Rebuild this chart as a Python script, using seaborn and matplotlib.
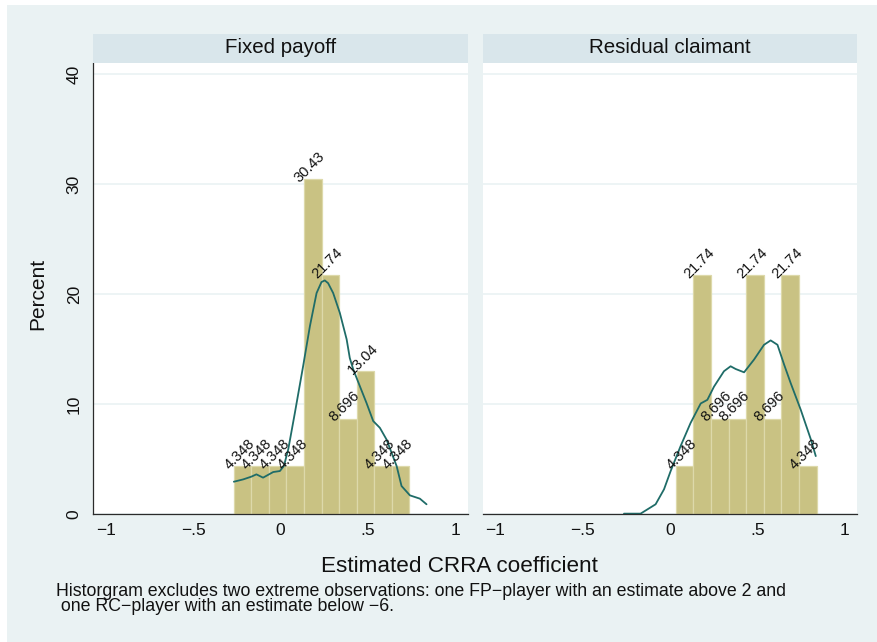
import matplotlib
matplotlib.use("Agg")
import matplotlib.pyplot as plt
import seaborn as sns
from matplotlib.patches import Rectangle

# ---- data -------------------------------------------------------------
panel_titles = ["Fixed payoff", "Residual claimant"]

fp_bin_edges = [-0.267, -0.167, -0.066, 0.034, 0.135, 0.235, 0.335, 0.436, 0.536, 0.636, 0.737]
fp_percent = [4.348, 4.348, 4.348, 4.348, 30.43, 21.74, 8.696, 13.04, 4.348, 4.348]
fp_kde_x = [-0.267, -0.214, -0.167, -0.138, -0.100, -0.042, -0.004, 0.019, 0.044, 0.082,
            0.129, 0.168, 0.206, 0.234, 0.253, 0.272, 0.301, 0.339, 0.378, 0.396, 0.416,
            0.492, 0.530, 0.568, 0.606, 0.664, 0.692, 0.740, 0.797, 0.835]
fp_kde_y = [2.96, 3.17, 3.42, 3.63, 3.33, 3.84, 3.93, 4.38, 5.90, 9.22,
            13.45, 17.10, 20.10, 21.10, 21.25, 21.00, 20.10, 18.30, 15.90, 14.20, 13.15,
            10.10, 8.47, 7.86, 6.80, 4.38, 2.57, 1.72, 1.42, 0.91]

rc_bin_edges = [0.033, 0.134, 0.235, 0.336, 0.436, 0.537, 0.638, 0.739, 0.839]
rc_percent = [4.348, 21.74, 8.696, 8.696, 21.74, 8.696, 21.74, 4.348]
rc_kde_x = [-0.263, -0.168, -0.082, -0.034, 0.004, 0.061, 0.118, 0.176, 0.214, 0.252,
            0.309, 0.347, 0.376, 0.424, 0.481, 0.538, 0.576, 0.615, 0.653, 0.691,
            0.748, 0.806, 0.834]
rc_kde_y = [0.06, 0.06, 0.91, 2.27, 3.93, 6.20, 8.30, 10.07, 10.40, 11.60,
            13.00, 13.45, 13.20, 12.90, 14.06, 15.40, 15.80, 15.40, 13.60, 11.90,
            9.50, 6.80, 5.29]

x_ticks = [-1, -0.5, 0, 0.5, 1]
x_tick_labels = ["\u22121", "\u2212.5", "0", ".5", "1"]
y_ticks = [0, 10, 20, 30, 40]
y_tick_labels = ["0", "10", "20", "30", "40"]

x_title = "Estimated CRRA coefficient"
y_title = "Percent"
note_lines = [
    "Historgram excludes two extreme observations: one FP\u2212player with an estimate above 2 and",
    " one RC\u2212player with an estimate below \u22126.",
]

# ---- style ------------------------------------------------------------
sns.set_style("white")
plt.rcParams["font.family"] = ["Liberation Sans", "DejaVu Sans"]

BG = "#EAF2F3"
STRIP = "#D9E6EB"
GRID = "#EAF2F3"
BAR = "#C9C283"
BAR_EDGE = "#DDD9AA"
CURVE = "#1F6C68"
AXIS = "#2b2b2b"

W, H = 877, 642
fig = plt.figure(figsize=(W / 100, H / 100), dpi=100, facecolor="white")
fig.patches.append(Rectangle((7 / W, 0), 1, 1 - 5 / H, transform=fig.transFigure,
                             facecolor=BG, edgecolor="none", zorder=-10))


def fx(px):
    return px / W


def fy(py):
    return 1 - py / H


plot_top, plot_bottom = 62.7, 514.3
strip_top = 34.3
panel_left = [93.3, 482.7]
panel_width = 374.5

panels = [
    (fp_bin_edges, fp_percent, fp_kde_x, fp_kde_y),
    (rc_bin_edges, rc_percent, rc_kde_x, rc_kde_y),
]

for i, (edges, pct, kx, ky) in enumerate(panels):
    left = panel_left[i]
    ax = fig.add_axes([fx(left), fy(plot_bottom), panel_width / W,
                       (plot_bottom - plot_top) / H])
    ax.set_facecolor("white")

    centers = [(edges[j] + edges[j + 1]) / 2 for j in range(len(pct))]
    sns.histplot(x=centers, weights=pct, bins=edges, stat="count", ax=ax,
                 color=BAR, edgecolor=BAR_EDGE, linewidth=0.9, alpha=1, zorder=2)
    sns.lineplot(x=kx, y=ky, ax=ax, color=CURVE, linewidth=1.3, sort=False,
                 estimator=None, zorder=4)

    for c, v in zip(centers, pct):
        ax.annotate(f"{v:.4g}", xy=(c, v), xytext=(-3, 12), textcoords="offset pixels",
                    rotation=45, rotation_mode="anchor", ha="center", va="center",
                    fontsize=10.5, color="#111111", zorder=5)

    ax.set_xlim(-1.071, 1.071)
    ax.set_ylim(0, 41.03)
    ax.set_xticks(x_ticks)
    ax.set_xticklabels(x_tick_labels)
    ax.set_yticks(y_ticks)
    ax.set_xlabel("")
    ax.set_ylabel("")
    ax.yaxis.grid(True, color=GRID, linewidth=1.2, zorder=0)
    ax.xaxis.grid(False)
    ax.set_axisbelow(True)

    for s in ("top", "right"):
        ax.spines[s].set_visible(False)
    ax.spines["bottom"].set_color(AXIS)
    ax.spines["bottom"].set_linewidth(0.9)
    ax.spines["bottom"].set_zorder(6)
    ax.tick_params(axis="x", direction="out", length=4.4, width=0.9, color=AXIS,
                   labelsize=12.5, pad=2, labelcolor="#111111")
    if i == 0:
        ax.spines["left"].set_color(AXIS)
        ax.spines["left"].set_linewidth(0.9)
        ax.set_yticklabels(y_tick_labels, rotation=90, va="center")
        ax.tick_params(axis="y", direction="out", length=4.4, width=0.9, color=AXIS,
                       labelsize=12.5, pad=4, labelcolor="#111111")
    else:
        ax.spines["left"].set_visible(False)
        ax.tick_params(axis="y", length=0, labelleft=False)

    # panel header strip
    fig.patches.append(Rectangle((fx(left), fy(plot_top)), panel_width / W,
                                 (plot_top - strip_top) / H, transform=fig.transFigure,
                                 facecolor=STRIP, edgecolor="none", zorder=1))
    fig.text(fx(left + panel_width / 2), fy(53.3), panel_titles[i], ha="center",
             va="baseline", fontsize=14.8, color="#111111")

fig.text(fx(37.5), fy(294), y_title, rotation=90, ha="center", va="center",
         fontsize=15, color="#111111")
fig.text(fx(459), fy(571.7), x_title, ha="center", va="baseline", fontsize=16.2,
         color="#111111")
# two-line note drawn as one text block
fig.text(fx(56), fy(583), "\n".join(note_lines), ha="left", va="top",
         fontsize=12.8, linespacing=0.86, color="#111111")

fig.savefig("out.png", dpi=100, facecolor=fig.get_facecolor())
